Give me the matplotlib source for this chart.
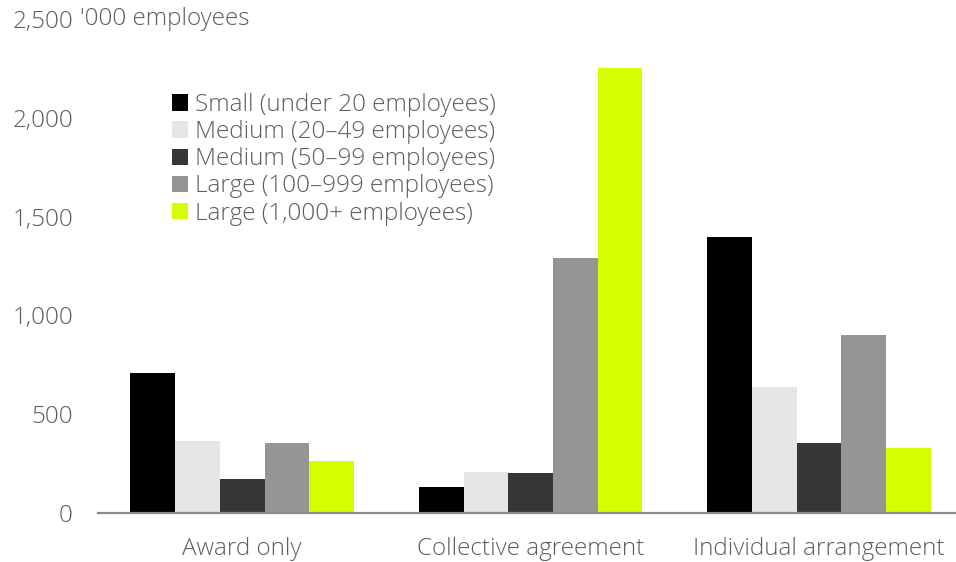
import matplotlib
matplotlib.use("Agg")
import matplotlib.pyplot as plt
import matplotlib.transforms as mtransforms
import numpy as np

categories = ["Award only", "Collective agreement", "Individual arrangement"]
series_labels = [
    "Small (under 20 employees)",
    "Medium (20\u201349 employees)",
    "Medium (50\u201399 employees)",
    "Large (100\u2013999 employees)",
    "Large (1,000+ employees)",
]
small_u20 = [710, 130, 1395]
medium_20_49 = [365, 205, 640]
medium_50_99 = [170, 200, 355]
large_100_999 = [353, 1290, 900]
large_1000p = [265, 2252, 330]
y_ticks = [0, 500, 1000, 1500, 2000, 2500]
y_tick_labels = ["0", "500", "1,000", "1,500", "2,000", "2,500"]
y_unit = "'000 employees"

values = [small_u20, medium_20_49, medium_50_99, large_100_999, large_1000p]
colors = ["#000000", "#e6e6e6", "#363636", "#959595", "#d4ff00"]

plt.rcParams["font.family"] = ["Open Sans", "DejaVu Sans"]
text_color = "#5e5e5e"
fs = 17.5
fw = "light"

fig = plt.figure(figsize=(9.56, 5.62), dpi=100)
ax = fig.add_axes([98 / 956, 49 / 562, 858 / 956, 494 / 562])

x = np.arange(len(categories))
width = 0.155
offsets = (np.arange(len(values)) - 2) * width
for vals, off, col, lab in zip(values, offsets, colors, series_labels):
    ax.bar(x + off, vals, width, color=col, label=lab, linewidth=0)

ax.set_xlim(-0.5, 2.475)
ax.set_ylim(0, 2500)
ax.set_yticks(y_ticks)
ax.set_yticklabels(y_tick_labels)
ax.set_xticks(x)
ax.set_xticklabels(categories)
ax.tick_params(axis="both", length=0, labelsize=fs, colors=text_color)
ax.tick_params(axis="y", pad=18)
ax.tick_params(axis="x", pad=17)
for lbl in ax.get_yticklabels() + ax.get_xticklabels():
    lbl.set_fontweight(fw)

for side in ("top", "right", "left"):
    ax.spines[side].set_visible(False)
ax.spines["bottom"].set_color("#8a8a8a")
ax.spines["bottom"].set_linewidth(1.6)

trans = mtransforms.blended_transform_factory(fig.transFigure, ax.transData)
ax.text(80 / 956, 2500, y_unit, transform=trans, ha="left", va="center",
        fontsize=fs, color=text_color, fontweight=fw)

leg = ax.legend(loc="upper left", bbox_to_anchor=(0.075, 0.87), frameon=False,
                prop={"size": fs, "weight": fw},
                handlelength=0.65, handleheight=0.65, handletextpad=0.3,
                labelspacing=0.13, borderaxespad=0)
for t in leg.get_texts():
    t.set_color(text_color)

fig.savefig("out.png", dpi=100)
